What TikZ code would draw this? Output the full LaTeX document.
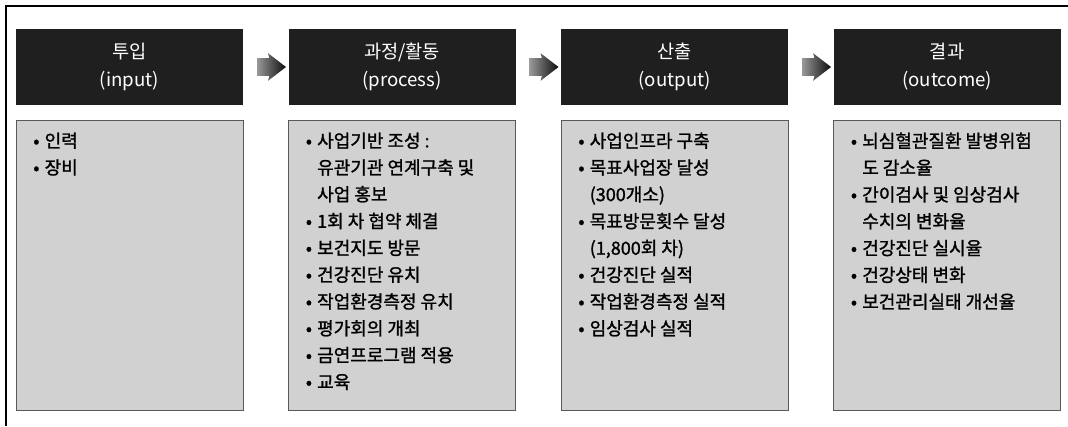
\documentclass[tikz,border=0pt]{standalone}
\usepackage{fontspec}
\setmainfont{Noto Sans CJK KR}
\newfontfamily\listfont{Noto Sans CJK KR}[FakeBold=1.3]
\usetikzlibrary{positioning, calc, shapes.arrows}

\newcommand{\itm}[1]{\makebox[8.5pt][l]{•}#1}
\newcommand{\cnt}[1]{\hspace*{8.5pt}#1}

\begin{document}
\begin{tikzpicture}[
        x=0.75pt, y=-0.75pt,
        node distance=33.75pt,
        headbox/.style={rectangle, fill=black!88, text=white, minimum width=170.25pt, minimum height=57pt, align=center, inner sep=0pt, font=\fontsize{14}{21}\selectfont},
        listbox/.style={rectangle, draw=black!65, fill=black!18, minimum width=170.25pt, minimum height=217.5pt, inner sep=0pt},
        listtext/.style={anchor=north west, align=left, inner sep=0pt, font=\listfont\fontsize{13.5}{20.1}\selectfont},
        flowarrow/.style={single arrow, minimum height=21.75pt, inner xsep=0pt, inner ysep=6.4pt, single arrow head extend=3.75pt, single arrow tip angle=75, single arrow head indent=1pt, left color=black!40, right color=black!95}
    ]
    \useasboundingbox (0,0) rectangle (1068,426);
    % outer frame
    \draw[line width=1pt] (6,426) -- (6,6) -- (1068,6);

    % header row
    \node[headbox] (h1) at (129.5,67) {투입\\(input)};
    \node[headbox, right=of h1] (h2) {과정/활동\\(process)};
    \node[headbox, right=of h2] (h3) {산출\\(output)};
    \node[headbox, right=of h3] (h4) {결과\\(outcome)};

    % arrows between headers
    \node[flowarrow] (a1) at ($(h1.east)!0.5!(h2.west)$) {};
    \node[flowarrow] (a2) at ($(h2.east)!0.5!(h3.west)$) {};
    \node[flowarrow] (a3) at ($(h3.east)!0.5!(h4.west)$) {};

    % list boxes
    \node[listbox, below=11.25pt of h1] (l1) {};
    \node[listbox, below=11.25pt of h2] (l2) {};
    \node[listbox, below=11.25pt of h3] (l3) {};
    \node[listbox, below=11.25pt of h4] (l4) {};

    \node[listtext] (t1) at ([xshift=13pt, yshift=-9pt]l1.north west) {\itm{인력}\\ \itm{장비}};
    \node[listtext] (t2) at ([xshift=13pt, yshift=-9pt]l2.north west) {\itm{사업기반 조성 :}\\ \cnt{유관기관 연계구축 및}\\ \cnt{사업 홍보}\\
        \itm{1회 차 협약 체결}\\ \itm{보건지도 방문}\\ \itm{건강진단 유치}\\ \itm{작업환경측정 유치}\\
        \itm{평가회의 개최}\\ \itm{금연프로그램 적용}\\ \itm{교육}};
    \node[listtext] (t3) at ([xshift=13pt, yshift=-9pt]l3.north west) {\itm{사업인프라 구축}\\ \itm{목표사업장 달성}\\ \cnt{(300개소)}\\
        \itm{목표방문횟수 달성}\\ \cnt{(1,800회 차)}\\ \itm{건강진단 실적}\\ \itm{작업환경측정 실적}\\ \itm{임상검사 실적}};
    \node[listtext] (t4) at ([xshift=13pt, yshift=-9pt]l4.north west) {\itm{뇌심혈관질환 발병위험}\\ \cnt{도 감소율}\\
        \itm{간이검사 및 임상검사}\\ \cnt{수치의 변화율}\\ \itm{건강진단 실시율}\\ \itm{건강상태 변화}\\ \itm{보건관리실태 개선율}};
\end{tikzpicture}
\end{document}
